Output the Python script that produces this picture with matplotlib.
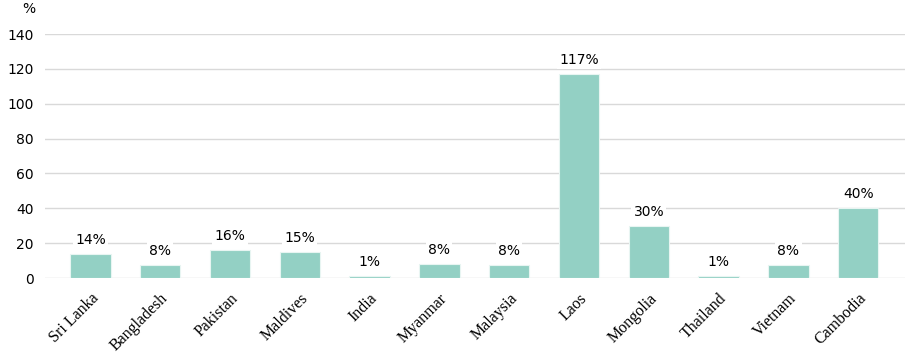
import matplotlib
matplotlib.use("Agg")
import matplotlib.pyplot as plt

countries = ["Sri Lanka", "Bangladesh", "Pakistan", "Maldives", "India", "Myanmar",
             "Malaysia", "Laos", "Mongolia", "Thailand", "Vietnam", "Cambodia"]
values = [14, 7.5, 16, 15, 1, 8, 7.5, 117, 30, 1, 7.5, 40]
labels = ["14%", "8%", "16%", "15%", "1%", "8%", "8%", "117%", "30%", "1%", "8%", "40%"]
yticks = [0, 20, 40, 60, 80, 100, 120, 140]

fig = plt.figure(figsize=(9.15, 3.53), dpi=100)
ax = fig.add_axes([45/915, (353-278)/353, (905-45)/915, (278-34)/353])
x = list(range(len(countries)))
ax.bar(x, values, width=0.58, color="#93d0c4", edgecolor="#e8f5f2", linewidth=0.8, zorder=2)
for xi, v, lab in zip(x, values, labels):
    ax.annotate(lab, (xi, v), xytext=(0, 5), textcoords="offset points", ha="center", va="bottom",
                fontsize=10, family="DejaVu Sans", zorder=3,
                bbox=dict(boxstyle="square,pad=0.15", fc="white", ec="none"))
ax.set_xlim(-0.65, 11.67)
ax.set_ylim(0, 140)
ax.set_yticks(yticks)
ax.yaxis.grid(True, color="#d9d9d9", linewidth=1, zorder=0)
ax.set_axisbelow(True)
for s in ax.spines.values():
    s.set_visible(False)
ax.tick_params(axis="both", length=0)
ax.tick_params(axis="y", labelsize=10, pad=8)
ax.set_xticks(x)
ax.set_xticklabels(countries, rotation=45, ha="right", rotation_mode="anchor",
                   fontsize=11.5, family="Liberation Serif")
ax.tick_params(axis="x", pad=9)
fig.text(29/915, 1 - 9/353, "%", fontsize=10, ha="center", va="center")
fig.savefig("out.png", dpi=100)
